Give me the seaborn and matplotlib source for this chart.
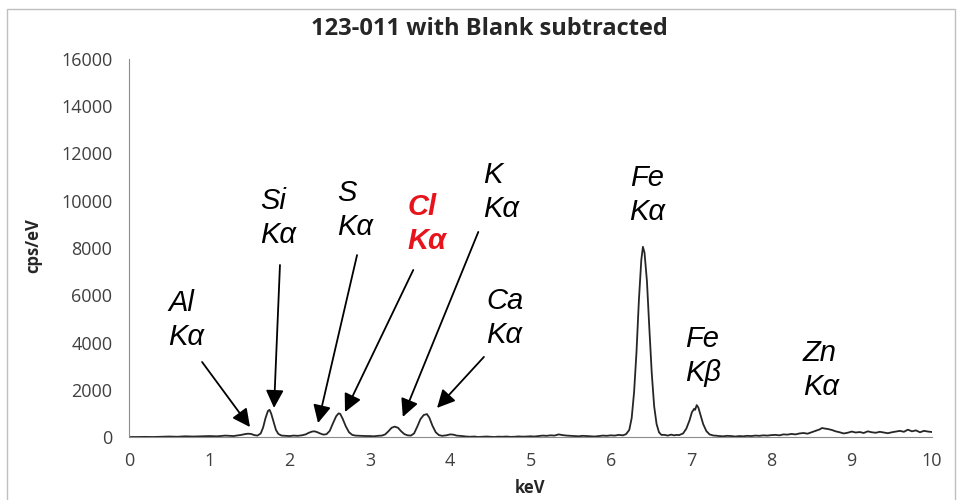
"""EDS spectrum of sample 123-011 with the blank subtracted."""
import matplotlib
matplotlib.use("Agg")
import matplotlib.pyplot as plt
from matplotlib.patches import Rectangle
import seaborn as sns
import pandas as pd

# spectrum (keV, cps/eV)
kev = [
    0.00, 0.10, 0.20, 0.30, 0.40, 0.50, 0.60, 0.70, 0.80, 0.90,
    1.00, 1.10, 1.20, 1.30, 1.36, 1.40, 1.44, 1.48, 1.52, 1.56,
    1.60, 1.64, 1.67, 1.70, 1.73, 1.75, 1.77, 1.80, 1.83, 1.86,
    1.90, 1.95, 2.00, 2.05, 2.10, 2.15, 2.20, 2.24, 2.28, 2.31,
    2.34, 2.38, 2.42, 2.46, 2.50, 2.54, 2.58, 2.61, 2.63, 2.66,
    2.70, 2.74, 2.78, 2.82, 2.88, 2.95, 3.00, 3.05, 3.10, 3.15,
    3.19, 3.23, 3.27, 3.31, 3.35, 3.39, 3.43, 3.47, 3.51, 3.55,
    3.59, 3.63, 3.67, 3.71, 3.74, 3.78, 3.82, 3.86, 3.90, 3.95,
    4.00, 4.04, 4.08, 4.15, 4.20, 4.25, 4.30, 4.35, 4.40, 4.45,
    4.50, 4.55, 4.60, 4.65, 4.70, 4.75, 4.80, 4.85, 4.90, 4.95,
    5.00, 5.05, 5.10, 5.15, 5.20, 5.25, 5.30, 5.35, 5.40, 5.45,
    5.50, 5.55, 5.60, 5.65, 5.70, 5.75, 5.80, 5.85, 5.90, 5.95,
    6.00, 6.05, 6.10, 6.15, 6.19, 6.23, 6.26, 6.29, 6.32, 6.35,
    6.38, 6.40, 6.42, 6.45, 6.48, 6.51, 6.54, 6.57, 6.60, 6.63,
    6.67, 6.71, 6.75, 6.79, 6.82, 6.85, 6.90, 6.94, 6.98, 7.01,
    7.04, 7.05, 7.07, 7.09, 7.12, 7.15, 7.19, 7.23, 7.28, 7.30,
    7.35, 7.40, 7.45, 7.50, 7.55, 7.60, 7.65, 7.70, 7.75, 7.80,
    7.85, 7.90, 7.95, 8.00, 8.05, 8.10, 8.15, 8.20, 8.25, 8.30,
    8.35, 8.40, 8.45, 8.50, 8.55, 8.60, 8.63, 8.66, 8.70, 8.75,
    8.80, 8.85, 8.90, 8.95, 9.00, 9.05, 9.10, 9.15, 9.20, 9.25,
    9.30, 9.35, 9.40, 9.45, 9.50, 9.55, 9.60, 9.65, 9.70, 9.75,
    9.80, 9.85, 9.90, 9.95, 10.00,
]
cps = [
    0, 0, 5, 0, 10, 20, 10, 30, 20, 30,
    40, 30, 60, 40, 70, 90, 120, 140, 130, 80,
    60, 150, 400, 800, 1100, 1150, 1000, 650, 300, 130,
    60, 50, 40, 60, 50, 70, 110, 180, 230, 240,
    210, 150, 100, 120, 260, 580, 880, 1000, 980, 780,
    450, 200, 90, 60, 50, 40, 40, 30, 50, 60,
    110, 240, 390, 440, 390, 240, 120, 70, 60, 150,
    440, 760, 930, 970, 820, 470, 200, 80, 50, 70,
    110, 100, 60, 40, 20, 10, 20, 0, 10, 20,
    10, 0, 15, 10, 20, 5, 10, 25, 15, 20,
    30, 20, 40, 60, 50, 70, 60, 110, 80, 60,
    50, 40, 30, 50, 40, 30, 20, 40, 60, 50,
    70, 60, 90, 70, 120, 300, 800, 1900, 3600, 5800,
    7500, 8050, 7800, 6600, 4600, 2700, 1300, 550, 200, 90,
    90, 60, 100, 70, 90, 80, 150, 350, 700, 1050,
    1200, 1150, 1350, 1250, 900, 550, 250, 110, 60, 60,
    40, 30, 50, 40, 20, 40, 30, 50, 40, 60,
    50, 70, 60, 80, 90, 70, 110, 100, 130, 110,
    150, 170, 140, 200, 260, 320, 380, 360, 340, 300,
    240, 200, 150, 180, 230, 190, 210, 170, 240, 200,
    180, 220, 190, 160, 200, 230, 260, 220, 310, 240,
    280, 200, 260, 230, 210,
]

x_ticks = [0, 1, 2, 3, 4, 5, 6, 7, 8, 9, 10]
y_ticks = [0, 2000, 4000, 6000, 8000, 10000, 12000, 14000, 16000]

# peak labels, in data coordinates
labels = ["Al\nKα", "Si\nKα", "S\nKα", "Cl\nKα", "K\nKα", "Ca\nKα",
          "Fe\nKα", "Fe\nKβ", "Zn\nKα"]
label_kev = [0.49, 1.63, 2.59, 3.47, 4.41, 4.45, 6.45, 6.92, 8.39]
label_cps = [4950, 9270, 9610, 9020, 10370, 5040, 10240, 3430, 2840]

# arrows: start point -> peak
arrow_from = [(0.91, 3175), (1.88, 7280), (2.84, 7700),
              (3.54, 7070), (4.35, 8680), (4.42, 3390)]
arrow_to = [(1.507, 420), (1.806, 1230), (2.354, 590),
            (2.69, 1060), (3.41, 850), (3.836, 1230)]

df = pd.DataFrame({"keV": kev, "cps": cps})

sns.set_style("white")
plt.rcParams["font.family"] = ["Open Sans", "DejaVu Sans"]

fig = plt.figure(figsize=(9.62, 5.0), dpi=100)
ax = fig.add_axes([129 / 962, 63 / 500, 803 / 962, 378 / 500])

sns.lineplot(data=df, x="keV", y="cps", ax=ax, color="#262626", lw=1.3)

ax.set_xlim(0, 10)
ax.set_ylim(0, 16000)
ax.set_xticks(x_ticks)
ax.set_xticks([t + 0.5 for t in x_ticks[:-1]], minor=True)
ax.set_yticks(y_ticks)
ax.set_xlabel("")
ax.set_ylabel("")
ax.tick_params(axis="both", which="both", direction="out", length=5,
               width=1, color="#8c8c8c", labelsize=13, labelcolor="#404040")
ax.tick_params(axis="x", pad=6)
ax.tick_params(axis="y", pad=7)
sns.despine(ax=ax)
for side in ["left", "bottom"]:
    ax.spines[side].set_color("#8c8c8c")

for txt, lx, ly in zip(labels, label_kev, label_cps):
    is_cl = txt.startswith("Cl")
    ax.text(lx, ly, txt, ha="center" if txt == "Fe\nKα" else "left",
            va="center", fontsize=21, style="italic",
            family="Liberation Sans", linespacing=1.25,
            color="#e8141b" if is_cl else "black",
            fontweight="bold" if is_cl else "normal")

for start, tip in zip(arrow_from, arrow_to):
    ax.annotate("", xy=tip, xytext=start,
                arrowprops=dict(arrowstyle="-|>,head_length=0.6,head_width=0.3",
                                color="black", lw=1.3, mutation_scale=18,
                                shrinkA=0, shrinkB=0))

fig.text(489 / 962, 1 - 29 / 500, "123-011 with Blank subtracted",
         ha="center", va="center", fontsize=17, fontweight="bold",
         color="#262626")
fig.text(33 / 962, 1 - 246 / 500, "cps/eV", rotation=90, ha="center",
         va="center", fontsize=12, fontweight="bold", color="#262626")
fig.text(530 / 962, 1 - 488 / 500, "keV", ha="center", va="center",
         fontsize=12, fontweight="bold", color="#262626")

# thin frame round the chart area
fig.patches.append(Rectangle((7 / 962, -0.02), 948 / 962, 1 - 9 / 500 + 0.02,
                             transform=fig.transFigure, fill=False,
                             edgecolor="#bfbfbf", lw=1))

fig.savefig("out.png", dpi=100)
